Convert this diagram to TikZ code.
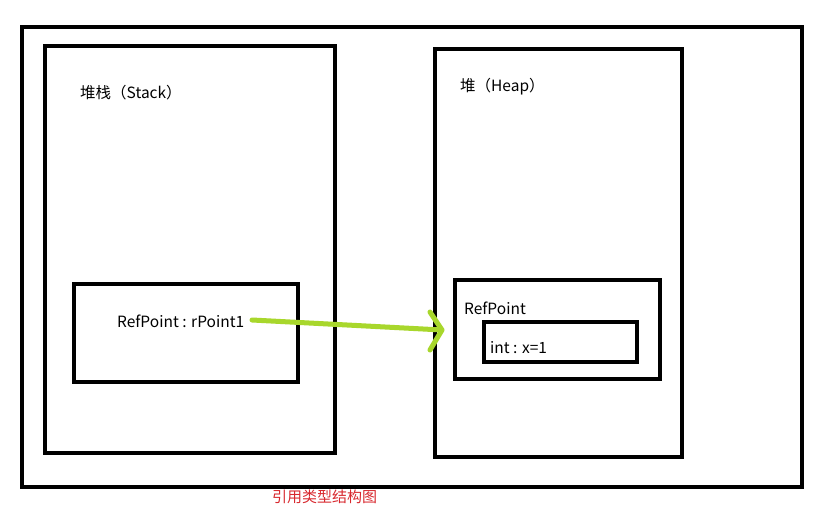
\documentclass[tikz,border=0pt]{standalone}
\usepackage{fontspec}
\setmainfont{Noto Sans CJK SC}
\definecolor{arrowgreen}{HTML}{A8D72C}
\definecolor{captionred}{HTML}{D8282E}
\tikzset{
  box/.style={draw=black, line width=4pt},
  lbl/.style={anchor=west, inner sep=0pt, font=\fontsize{15.5}{18}\selectfont},
}
\begin{document}
\begin{tikzpicture}[x=1pt,y=-1pt]
\useasboundingbox (0,0) rectangle (815,522);
\fill[white] (0,0) rectangle (815,522);
% outer frame
\draw[box] (22,27) rectangle (802,487);
% stack
\draw[box] (45,46) rectangle (335,453);
\node[lbl] (stacklbl) at (80,93) {堆栈（Stack）};
\draw[box] (74,284) rectangle (298,382);
\node[lbl] (ref) at (117,321) {RefPoint : rPoint1};
% heap
\draw[box] (435,49) rectangle (682,457);
\node[lbl] (heaplbl) at (460,87) {堆（Heap）};
\draw[box] (455,280) rectangle (660,379);
\node[lbl] (obj) at (464,308) {RefPoint};
\draw[box] (484,322) rectangle (637,362);
\node[lbl] (intx) at (490,348) {int : x=1};
% arrow
\coordinate (a0) at (252,320);
\coordinate (a1) at (442,330);
\draw[arrowgreen, line width=5pt, line cap=round] (a0) -- (a1);
\draw[arrowgreen, line width=5pt, line cap=round, line join=round] (430,312) -- (a1) -- (430,350);
% caption
\node[anchor=west, inner sep=0pt, text=captionred, font=\fontsize{15}{17}\selectfont] (cap) at (272,497) {引用类型结构图};
\end{tikzpicture}
\end{document}
